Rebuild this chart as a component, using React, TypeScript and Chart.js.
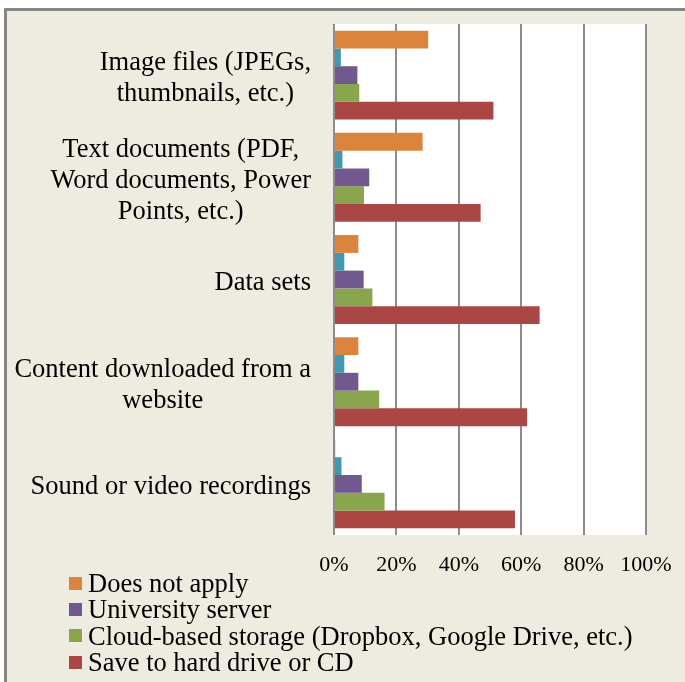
import React, { useEffect, useRef } from "react";
import { Chart, registerables } from "chart.js";

Chart.register(...registerables);

const categoryLines: string[][] = [
  ["Image files (JPEGs,", "thumbnails, etc.)"],
  ["Text documents (PDF,", "Word documents, Power", "Points, etc.)"],
  ["Data sets"],
  ["Content downloaded from a", "website"],
  ["Sound or video recordings"],
];
const categories = categoryLines.map((l) => l.join(" "));

const doesNotApply = [30.2, 28.4, 7.8, 7.8, 0.4];
const otherSeries = [2.2, 2.7, 3.3, 3.3, 2.4];
const universityServer = [7.5, 11.3, 9.5, 7.8, 8.9];
const cloudStorage = [8.1, 9.6, 12.3, 14.5, 16.2];
const hardDrive = [51.1, 47.0, 65.9, 61.9, 58.0];

const xTicks = [0, 20, 40, 60, 80, 100];

const seriesNames = [
  "Does not apply",
  "Other",
  "University server",
  "Cloud-based storage (Dropbox, Google Drive, etc.)",
  "Save to hard drive or CD",
];
const seriesColors = ["#DB843D", "#4198AF", "#71588F", "#89A54E", "#AA4643"];
const legendIndices = [0, 2, 3, 4];

const FONT = "'Liberation Serif', 'Times New Roman', serif";

export default function App() {
  const ref = useRef<HTMLCanvasElement | null>(null);

  useEffect(() => {
    if (!ref.current) return;
    const seriesData = [doesNotApply, otherSeries, universityServer, cloudStorage, hardDrive];

    const plotBg = {
      id: "plotBg",
      beforeDraw(chart: any) {
        const { ctx, chartArea } = chart;
        ctx.save();
        ctx.fillStyle = "#FFFFFF";
        ctx.fillRect(chartArea.left, chartArea.top, chartArea.right - chartArea.left, chartArea.bottom - chartArea.top);
        ctx.restore();
      },
    };

    const catLabels = {
      id: "catLabels",
      afterDraw(chart: any) {
        const { ctx, chartArea } = chart;
        const yScale = chart.scales.y;
        const lh = 31;
        ctx.save();
        ctx.font = `26.5px ${FONT}`;
        ctx.fillStyle = "#000000";
        ctx.textAlign = "center";
        ctx.textBaseline = "middle";
        const right = chartArea.left - 23;
        categoryLines.forEach((lines, i) => {
          const cy = yScale.getPixelForValue(i);
          const w = Math.max(...lines.map((l) => ctx.measureText(l).width));
          const cx = right - w / 2;
          lines.forEach((line, j) => {
            ctx.fillText(line, cx, cy + (j - (lines.length - 1) / 2) * lh + 3.5);
          });
        });
        ctx.restore();
      },
    };

    const chart = new Chart(ref.current, {
      type: "bar",
      data: {
        labels: categories,
        datasets: seriesNames.map((name, i) => ({
          label: name,
          data: seriesData[i],
          backgroundColor: seriesColors[i],
          borderWidth: 0,
          barPercentage: 1,
          categoryPercentage: 0.87,
        })),
      },
      options: {
        indexAxis: "y",
        responsive: false,
        maintainAspectRatio: false,
        animation: false,
        layout: { padding: { left: 334, right: 39, top: 24, bottom: 0 } },
        plugins: {
          legend: { display: false },
          tooltip: { enabled: false },
        },
        scales: {
          x: {
            min: 0,
            max: 100,
            afterBuildTicks: (scale: any) => {
              scale.ticks = xTicks.map((v) => ({ value: v }));
            },
            afterFit: (scale: any) => {
              scale.height = 65;
              scale.paddingRight = 0;
              scale.paddingLeft = 0;
            },
            grid: { color: "#8C8C8C", lineWidth: 2, drawTicks: false },
            border: { display: false },
            ticks: {
              padding: 17,
              color: "#000000",
              font: { family: FONT, size: 22 },
              callback: (v: any) => `${v}%`,
            },
          },
          y: {
            display: false,
          },
        },
      },
      plugins: [plotBg, catLabels],
    });
    return () => chart.destroy();
  }, []);

  return (
    <div style={{ position: "absolute", left: 0, top: 0, width: 685, height: 682, background: "#FFFFFF", overflow: "hidden" }}>
      <div
        style={{
          position: "absolute",
          left: 4,
          top: 8,
          width: 700,
          height: 700,
          background: "#EEECE1",
          borderLeft: "3px solid #878787",
          borderTop: "3px solid #878787",
        }}
      />
      <canvas ref={ref} width={685} height={600} style={{ position: "absolute", left: 0, top: 0, width: 685, height: 600 }} />
      <div style={{ position: "absolute", left: 69, top: 570, fontFamily: FONT, fontSize: 26.5, color: "#000" }}>
        {legendIndices.map((i) => (
          <div key={i} style={{ display: "flex", alignItems: "center", height: 26.3, lineHeight: "26px", whiteSpace: "nowrap" }}>
            <span style={{ display: "inline-block", width: 13, height: 13, background: seriesColors[i], marginRight: 6 }} />
            <span>{seriesNames[i]}</span>
          </div>
        ))}
      </div>
    </div>
  );
}
